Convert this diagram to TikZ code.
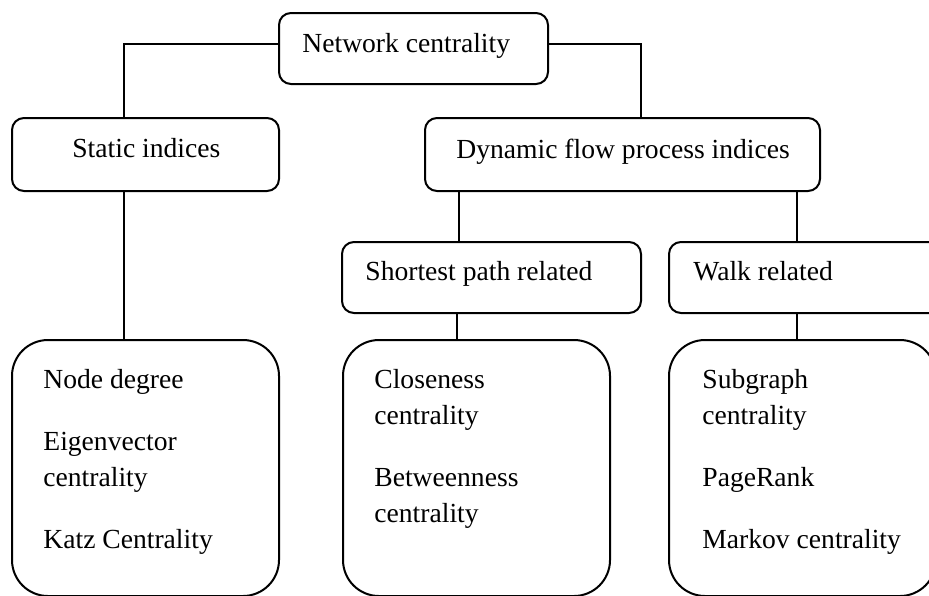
\documentclass[tikz,border=0pt]{standalone}
\usepackage{fontspec}
\setmainfont{Liberation Serif}
\begin{document}
\begin{tikzpicture}[x=0.5pt,y=-0.5pt,
  smallbox/.style={draw=black, line width=1pt, rounded corners=6pt, inner sep=0pt, fill=white},
  bigbox/.style={draw=black, line width=1pt, rounded corners=18pt, inner sep=0pt, fill=white},
  lbl/.style={inner sep=0pt, anchor=base west, font=\fontsize{13.8pt}{18pt}\selectfont},
  conn/.style={draw=black, line width=1pt}]
\path[use as bounding box] (0,0) rectangle (929,595);
\clip (0,0) rectangle (929,595);
\fill[white] (0,0) rectangle (929,595);

% boxes
\node[smallbox, minimum width=134.5pt, minimum height=35.5pt] (nc)  at (413.5,48.5) {};
\node[smallbox, minimum width=133.5pt, minimum height=36.5pt] (si)  at (145.5,154.5) {};
\node[smallbox, minimum width=197.5pt, minimum height=36.5pt] (dfp) at (622.5,154.5) {};
\node[smallbox, minimum width=149.5pt, minimum height=35.5pt] (sp)  at (491.5,277.5) {};
\node[smallbox, minimum width=138pt,   minimum height=35.5pt] (wr)  at (807,277.5) {};
\node[bigbox, minimum width=133.5pt, minimum height=128pt] (b1) at (145.5,468) {};
\node[bigbox, minimum width=133.5pt, minimum height=128pt] (b2) at (476.5,468) {};
\node[bigbox, minimum width=133.5pt, minimum height=128pt] (b3) at (802.5,468) {};

% texts
\node[lbl] (tnc)  at (302,52)  {Network centrality};
\node[lbl] (tsi)  at (72,157)  {Static indices};
\node[lbl] (tdfp) at (456,158) {Dynamic flow process indices};
\node[lbl] (tsp)  at (365,280) {Shortest path related};
\node[lbl] (twr)  at (693,280) {Walk related};
\node[lbl] (tb1) at (43,388)  {\parbox[t]{125pt}{\raggedright Node degree\\[13pt]Eigenvector\\centrality\\[13pt]Katz Centrality}};
\node[lbl] (tb2) at (374,388) {\parbox[t]{125pt}{\raggedright Closeness\\centrality\\[13pt]Betweenness\\centrality}};
\node[lbl] (tb3) at (702,388) {\parbox[t]{125pt}{\raggedright Subgraph\\centrality\\[13pt]PageRank\\[13pt]Markov centrality}};

% connectors
\draw[conn] (nc.west |- 0,44) -| (124,0 |- si.north);
\draw[conn] (nc.east |- 0,44) -| (641,0 |- dfp.north);
\draw[conn] (459,0 |- dfp.south) -- (459,0 |- sp.north);
\draw[conn] (797,0 |- dfp.south) -- (797,0 |- wr.north);
\draw[conn] (124,0 |- si.south) -- (124,0 |- b1.north);
\draw[conn] (457,0 |- sp.south) -- (457,0 |- b2.north);
\draw[conn] (797,0 |- wr.south) -- (797,0 |- b3.north);
\end{tikzpicture}
\end{document}
